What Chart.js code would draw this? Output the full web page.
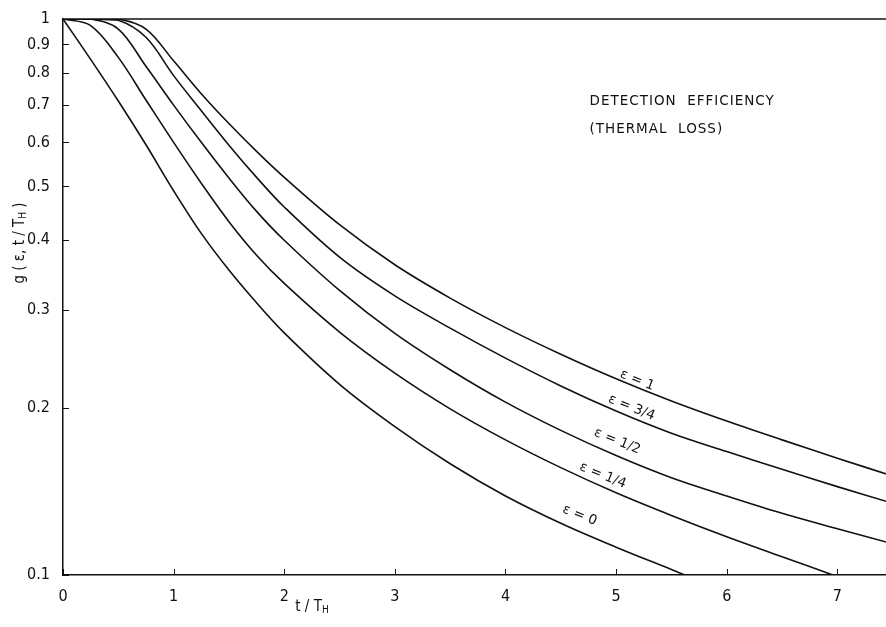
<!DOCTYPE html>
<html>
<head>
<meta charset="utf-8">
<script src="https://cdn.jsdelivr.net/npm/chart.js@4.4.1/dist/chart.umd.min.js"></script>
<style>
  html, body { margin: 0; padding: 0; background: #fff; }
  #wrap { width: 886px; height: 627px; position: relative; }
</style>
</head>
<body>
<div id="wrap"><canvas id="effChart"></canvas></div>
<script>
// t / T_H sample points and g(eps, t/T_H)
const tSteps = [0, 0.25, 0.5, 0.75, 1, 1.25, 1.5, 1.75, 2, 2.5, 3, 3.5, 4, 4.5, 5, 5.5, 6, 6.5, 7, 7.5];
const tEps0 = [0, 0.25, 0.5, 0.75, 1, 1.25, 1.5, 1.75, 2, 2.5, 3, 3.5, 4, 4.5, 5, 5.5, 5.62];
const gEps0 = [1, 0.846, 0.712, 0.594, 0.491, 0.4115, 0.3535, 0.3087, 0.2726, 0.2203, 0.1849, 0.1585, 0.1387, 0.1239, 0.1122, 0.1023, 0.1];
const tEps14 = [0, 0.25, 0.5, 0.75, 1, 1.25, 1.5, 1.75, 2, 2.5, 3, 3.5, 4, 4.5, 5, 5.5, 6, 6.5, 6.96];
const gEps14 = [1, 0.973, 0.853, 0.715, 0.600, 0.5066, 0.432, 0.376, 0.3345, 0.2735, 0.2307, 0.199, 0.175, 0.156, 0.1406, 0.128, 0.1172, 0.1079, 0.1];
const gEps12 = [1, 1, 0.959, 0.822, 0.70, 0.60, 0.5176, 0.4508, 0.400, 0.325, 0.272, 0.234, 0.2046, 0.182, 0.164, 0.1496, 0.1387, 0.1291, 0.1211, 0.1138];
const gEps34 = [1, 1, 0.995, 0.927, 0.791, 0.684, 0.593, 0.519, 0.459, 0.373, 0.3177, 0.278, 0.2455, 0.2188, 0.1972, 0.1799, 0.1667, 0.1549, 0.1442, 0.1346];
const gEps1 = [1, 1, 1, 0.959, 0.841, 0.734, 0.6486, 0.578, 0.519, 0.4266, 0.3614, 0.3148, 0.2786, 0.2495, 0.2254, 0.2056, 0.1892, 0.175, 0.1622, 0.1507];

const yTicks = [0.1, 0.2, 0.3, 0.4, 0.5, 0.6, 0.7, 0.8, 0.9, 1];
const xMax = 7.44;

// curve labels, placed in data coordinates
const curveLabels = ['ε = 1', 'ε = 3/4', 'ε = 1/2', 'ε = 1/4', 'ε = 0'];
const labelT = [5.19, 5.14, 5.01, 4.88, 4.67];
const labelG = [0.224, 0.200, 0.174, 0.151, 0.128];

const ink = '#111';
const tickFont = '"Liberation Sans Narrow", "DejaVu Sans Condensed", "Liberation Sans", sans-serif';

const pts = (ts, gs) => ts.map((t, i) => ({ x: t, y: gs[i] }));

const series = [
    pts(tEps0, gEps0),
    pts(tEps14, gEps14),
    pts(tSteps, gEps12),
    pts(tSteps, gEps34),
    pts(tSteps, gEps1)
];

// draws frame top line, inward tick marks, titles and text
const decor = {
    id: 'decor',
    afterDraw(chart) {
        const { ctx, chartArea: { top, bottom, left, right }, scales: { x, y } } = chart;
        ctx.save();
        ctx.strokeStyle = ink;
        ctx.lineWidth = 1.5;
        ctx.beginPath();
        ctx.moveTo(left, top);
        ctx.lineTo(right, top);
        ctx.stroke();

        ctx.lineWidth = 1;
        y.ticks.forEach(tk => {
            const py = Math.round(y.getPixelForValue(tk.value)) + 0.5;
            ctx.beginPath();
            ctx.moveTo(left, py);
            ctx.lineTo(left + 6, py);
            ctx.stroke();
        });
        x.ticks.forEach(tk => {
            const px = Math.round(x.getPixelForValue(tk.value)) + 0.5;
            ctx.beginPath();
            ctx.moveTo(px, bottom);
            ctx.lineTo(px, bottom - 6);
            ctx.stroke();
        });

        ctx.fillStyle = ink;
        ctx.textBaseline = 'middle';

        // curve labels
        ctx.font = '13.5px "DejaVu Sans", sans-serif';
        ctx.textAlign = 'center';
        curveLabels.forEach((txt, i) => {
            ctx.save();
            ctx.translate(x.getPixelForValue(labelT[i]), y.getPixelForValue(labelG[i]));
            ctx.rotate(22 * Math.PI / 180);
            ctx.fillText(txt, 0, 0);
            ctx.restore();
        });

        // heading inside plot
        ctx.textAlign = 'left';
        ctx.font = '13.5px "DejaVu Sans", sans-serif';
        ctx.letterSpacing = '1px';
        ctx.fillText('DETECTION  EFFICIENCY', x.getPixelForValue(4.76), y.getPixelForValue(0.712));
        ctx.fillText('(THERMAL  LOSS)', x.getPixelForValue(4.76), y.getPixelForValue(0.632));
        ctx.letterSpacing = '0px';

        // axis titles with subscript H
        const drawSub = (parts, cx, cy, rot) => {
            ctx.save();
            ctx.translate(cx, cy);
            ctx.rotate(rot);
            let total = 0;
            parts.forEach(p => { ctx.font = p[1]; total += ctx.measureText(p[0]).width; });
            let pos = -total / 2;
            parts.forEach(p => {
                ctx.font = p[1];
                ctx.fillText(p[0], pos, p[2]);
                pos += ctx.measureText(p[0]).width;
            });
            ctx.restore();
        };
        const big = '15px ' + tickFont;
        const small = '10px ' + tickFont;
        drawSub([['t / T', big, 0], ['H', small, 3]], 312, 607, 0);
        drawSub([['g ( ε, t / T', big, 0], ['H', small, 3], [' )', big, 0]], 20, 243, -Math.PI / 2);
        ctx.restore();
    }
};

const datasets = series.map(data => ({
    data,
    borderColor: ink,
    borderWidth: 1.6,
    pointRadius: 0,
    fill: false,
    tension: 0.35
}));

new Chart(document.getElementById('effChart'), {
    type: 'line',
    data: { datasets },
    options: {
        responsive: true,
        maintainAspectRatio: false,
        animation: false,
        layout: { padding: { top: 19, right: 0, left: 0, bottom: 0 } },
        plugins: { legend: { display: false }, tooltip: { enabled: false } },
        scales: {
            x: {
                type: 'linear',
                min: 0,
                max: xMax,
                grid: { display: false },
                border: { display: true, color: ink, width: 1.5 },
                ticks: {
                    stepSize: 1,
                    includeBounds: false,
                    maxRotation: 0,
                    padding: 4,
                    color: ink,
                    font: { family: tickFont, size: 16 }
                },
                afterFit(scale) { scale.height = 52; }
            },
            y: {
                type: 'logarithmic',
                min: 0.1,
                max: 1,
                grid: { display: false },
                border: { display: true, color: ink, width: 1.5 },
                afterBuildTicks(scale) { scale.ticks = yTicks.map(v => ({ value: v })); },
                ticks: {
                    padding: 5,
                    color: ink,
                    font: { family: tickFont, size: 16 },
                    callback: v => String(v)
                },
                afterFit(scale) { scale.width = 63; }
            }
        }
    },
    plugins: [decor]
});
</script>
</body>
</html>
